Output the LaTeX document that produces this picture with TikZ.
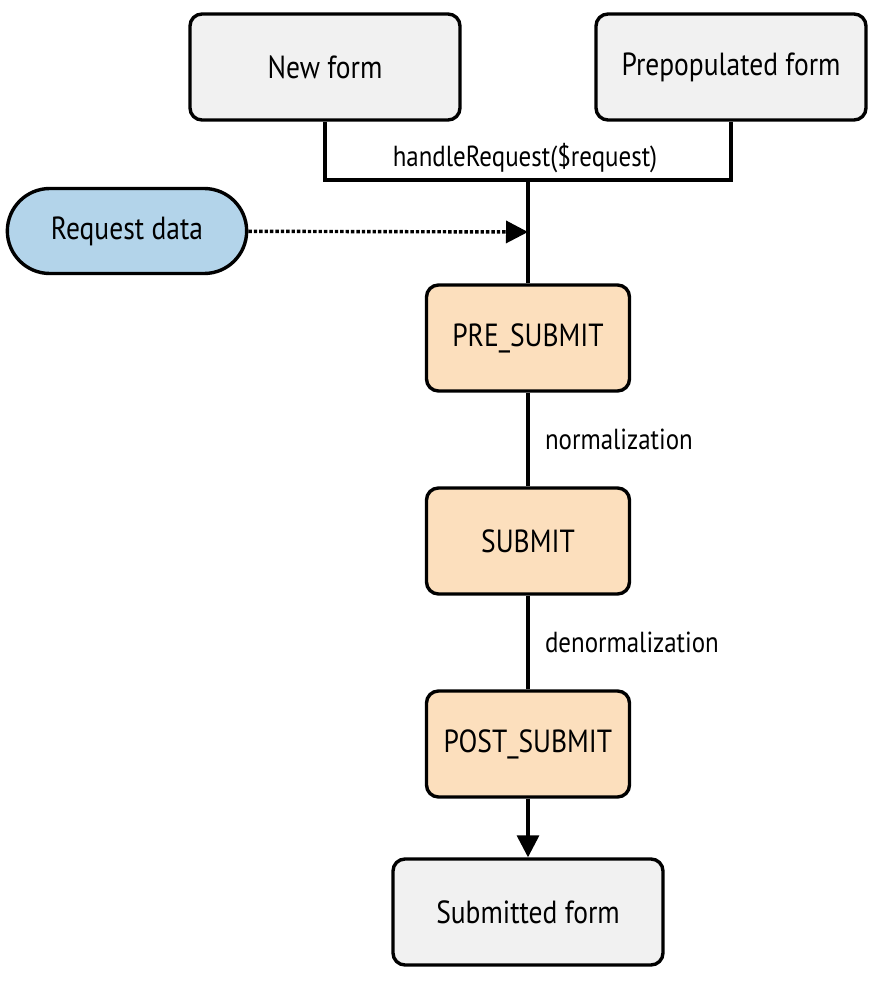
\documentclass[tikz,border=0pt]{standalone}
\usepackage{fontspec}
\setmainfont[FakeStretch=0.86]{PT Sans}
\usetikzlibrary{arrows.meta, positioning, shapes.misc}
\definecolor{formgray}{HTML}{F1F1F1}
\definecolor{stagetan}{HTML}{FCDFBD}
\definecolor{reqblue}{HTML}{B3D4EA}

\begin{document}
\begin{tikzpicture}[x=1pt,y=-1pt,line width=3.4pt,node distance=203pt,on grid,
      >={Triangle[length=22pt,width=22pt]},
      formbox/.style={draw,rounded corners=12pt,fill=formgray,minimum width=270pt,minimum height=106pt,
        font=\fontsize{32}{36}\selectfont},
      stagebox/.style={draw,rounded corners=12pt,fill=stagetan,minimum width=203pt,minimum height=106pt,
        font=\fontsize{32}{36}\selectfont},
      lbl/.style={font=\fontsize{29}{34}\selectfont}]
      \useasboundingbox (0,0) rectangle (880,982);
      \node[formbox]   (newform) at (325,67) {New form};
      \node[formbox]   (prepop)  at (731,67) {Prepopulated form};
      \node[draw,rounded rectangle,fill=reqblue,minimum width=246pt,minimum height=85pt,
        font=\fontsize{32}{36}\selectfont] (reqdata) at (127,231) {Request data};
      \node[stagebox]  (pre)  at (528,338) {PRE\_SUBMIT};
      \node[stagebox]  (sub)  [below=of pre] {SUBMIT};
      \node[stagebox]  (post) [below=of sub] {POST\_SUBMIT};
      \node[formbox]   (done) at (528,912) {Submitted form};
      \coordinate (join) at (528,180);
      \coordinate (hit)  at (528,232);
      % merge of the two forms
      \draw (newform) |- (join) -| (prepop);
      \node[lbl] (handle) at (525,158) {handleRequest(\$request)};
      \draw (join) -- (pre);
      \draw[dotted,->] (reqdata) -- (hit);
      \path (pre) edge node[lbl,right=12pt,anchor=west] {normalization} (sub)
            (sub) edge node[lbl,right=12pt,anchor=west] {denormalization} (post);
      \draw[->] (post) -- (done);
    \end{tikzpicture}
\end{document}
